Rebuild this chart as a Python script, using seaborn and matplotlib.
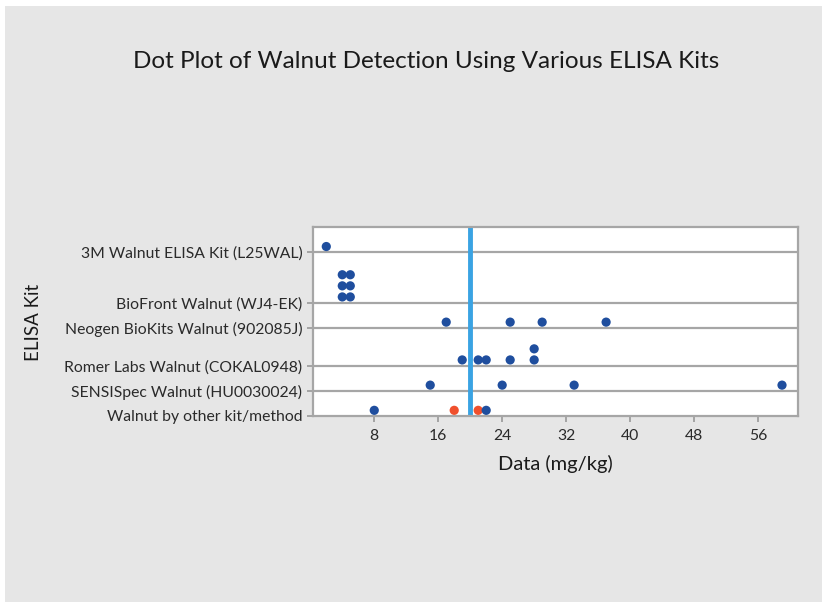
import numpy as np
import pandas as pd
import matplotlib.pyplot as plt
import seaborn as sns
from matplotlib.patches import Rectangle

# Kits, listed from top to bottom of the plot
kits = [
    "3M Walnut ELISA Kit (L25WAL)",
    "BioFront Walnut (WJ4-EK)",
    "Neogen BioKits Walnut (902085J)",
    "Romer Labs Walnut (COKAL0948)",
    "SENSISpec Walnut (HU0030024)",
    "Walnut by other kit/method",
]

# Reported walnut values (mg/kg) per kit
kit_3m = [2]
kit_biofront = [4, 4, 4, 5, 5, 5]
kit_neogen = [17, 25, 29, 37]
kit_romer = [19, 21, 22, 25, 28, 28]
kit_sensispec = [15, 24, 33, 59]
kit_other = [8, 18, 21, 22]
other_flag = ["ELISA", "Other", "Other", "ELISA"]   # red dots in the last row

reference_value = 20
x_ticks = [8, 16, 24, 32, 40, 48, 56]

rows = []
for kit, vals in zip(kits, [kit_3m, kit_biofront, kit_neogen, kit_romer, kit_sensispec, kit_other]):
    for i, v in enumerate(vals):
        flag = other_flag[i] if kit == kits[-1] else "ELISA"
        rows.append({"Kit": kit, "Data": v, "Group": flag})
df = pd.DataFrame(rows)

# stack dots with the same value inside a kit (Minitab style dot plot)
df["Level"] = df.groupby(["Kit", "Data"]).cumcount()
max_stack = df.groupby("Kit")["Level"].max() + 1

# each row gets height (stack + 1) units, bottom row first
base = {}
y = 0.0
for kit in reversed(kits):
    base[kit] = y
    y += max_stack[kit] + 1
top = y
df["Y"] = df["Kit"].map(base) + 0.45 + 0.88 * df["Level"]

fig = plt.figure(figsize=(8.22, 6.02), dpi=100)
fig.patch.set_facecolor("white")
bg = Rectangle((5 / 822, 0), 1, 596 / 602, transform=fig.transFigure,
               facecolor="#e6e6e6", edgecolor="none", zorder=-10)
fig.add_artist(bg)

ax = fig.add_axes([312.7 / 822, 186 / 602, 485.3 / 822, 189 / 602])
ax.set_facecolor("white")

for kit in kits[:-1]:
    ax.axhline(base[kit], color="#a6a6a6", lw=1.6, zorder=1)
ax.axvline(reference_value, color="#3aa3e3", lw=3.5, zorder=2)

sns.scatterplot(data=df, x="Data", y="Y", hue="Group",
                palette={"ELISA": "#1f4e9e", "Other": "#f0502d"},
                s=44, edgecolor="none", legend=False, ax=ax, zorder=3)

ax.set_xlim(0.3, 61)
ax.set_ylim(0, top)
ax.set_xticks(x_ticks)
ax.set_xticklabels([str(t) for t in x_ticks], fontsize=11.3, family="Lato")
ax.set_yticks([base[k] for k in kits])
ax.set_yticklabels(kits, fontsize=11.3, family="Lato")
ax.tick_params(axis="both", colors="#999999", length=4, width=1.2, labelcolor="#2a2a2a")
ax.tick_params(axis="x", pad=5)
for sp in ax.spines.values():
    sp.set_color("#a6a6a6")
    sp.set_linewidth(1.6)

ax.set_xlabel("Data (mg/kg)", fontsize=14.5, family="Lato", color="#1a1a1a", labelpad=9)
ax.set_ylabel("")
fig.text(33 / 822, 1 - 322 / 602, "ELISA Kit", rotation=90, ha="center", va="center",
         fontsize=13.5, family="Lato", color="#1a1a1a")
fig.text(426 / 822, 1 - 62 / 602, "Dot Plot of Walnut Detection Using Various ELISA Kits",
         ha="center", va="center", fontsize=17.5, family="Lato", color="#1a1a1a")

fig.savefig("out.png", dpi=100)
